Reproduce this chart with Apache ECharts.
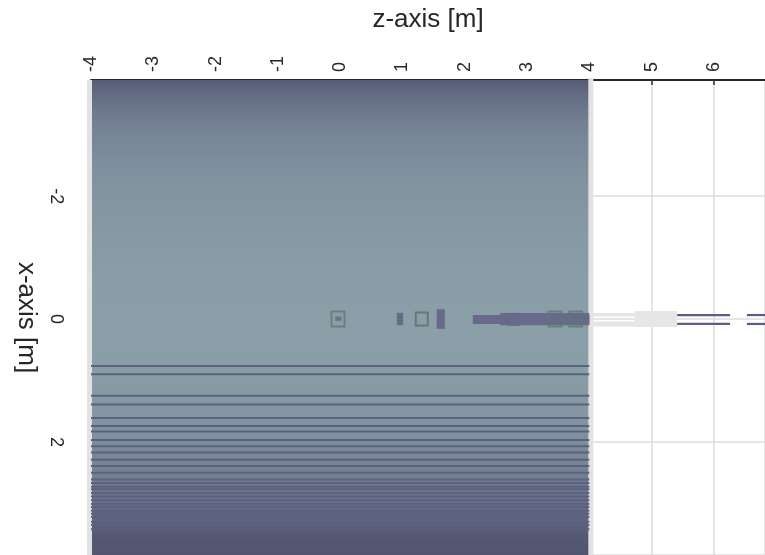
<!DOCTYPE html>
<html>
<head>
<meta charset="utf-8">
<script src="https://cdn.jsdelivr.net/npm/echarts@6/dist/echarts.min.js"></script>
<style>html,body{margin:0;padding:0;background:#fff}#c{width:765px;height:555px}</style>
</head>
<body>
<div id="c"></div>
<script>
// ---- data ----
var zTicks = [-4, -3, -2, -1, 0, 1, 2, 3, 4, 5, 6];
var xTicks = [-2, 0, 2];
// background intensity profile along x (0 = dark, 1 = light)
var bandX =     [-3.89, -3.8, -3.6, -3.4, -3.2, -3.0, -2.6, -2.2, -1.6, -1.0, -0.4, 0.4, 1.0, 1.6, 2.0, 2.4, 2.7, 2.9, 3.1, 3.3, 3.45, 3.6, 3.84];
var bandLevel = [0.1, 0.2, 0.38, 0.5, 0.6, 0.68, 0.78, 0.85, 0.91, 0.96, 0.99, 1.0, 0.96, 0.88, 0.78, 0.66, 0.54, 0.44, 0.32, 0.2, 0.1, 0.04, 0.02];
// dark horizontal stripes (x positions)
var stripeX = [0.764, 0.9, 1.25, 1.39, 1.61, 1.74, 1.83, 1.97, 2.07, 2.17, 2.29, 2.39, 2.5, 2.61, 2.67, 2.73, 2.77, 2.83, 2.89, 2.95, 3.01, 3.06, 3.12, 3.17, 3.22, 3.3, 3.35, 3.42];
// region extent in z
var regionZ = [-4, 4];
// filled dark features [z0, z1, x0, x1]
var darkRects = [[0.91, 1.01, -0.1, 0.1], [1.55, 1.68, -0.16, 0.16], [2.13, 4.0, -0.065, 0.08], [2.57, 4.0, -0.1, 0.1], [2.68, 2.89, -0.1, 0.11]];
var innerRects = [[-0.08, 0.02, -0.04, 0.03]];
// light grey features [z0, z1, x0, x1]
var greyRects = [[4.0, 5.41, -0.1, -0.04], [4.0, 5.41, 0.04, 0.12], [4.73, 5.41, -0.13, 0.13]];
// navy line segments [z0, z1, x]
var navySegs = [[5.41, 6.26, -0.065], [5.41, 6.26, 0.08], [6.53, 6.9, -0.065], [6.53, 6.9, 0.08]];
// square markers [z, x]
var greenSquares = [[-0.035, 0.0], [3.45, 0.0], [3.78, 0.0]];
var greySquares = [[1.31, 0.0]];

// ---- style helpers ----
var cmap = [[0, [82, 84, 112]], [0.5, [109, 119, 141]], [1, [138, 159, 167]]];
function colorOf(v) {
  for (var i = 0; i < cmap.length - 1; i++) {
    var a = cmap[i], b = cmap[i + 1];
    if (v <= b[0]) {
      var t = (v - a[0]) / (b[0] - a[0]);
      var c = a[1].map(function (x, k) { return Math.round(x + (b[1][k] - x) * t); });
      return 'rgb(' + c.join(',') + ')';
    }
  }
  return 'rgb(' + cmap[cmap.length - 1][1].join(',') + ')';
}

var bandData = [];
for (var i = 0; i < bandX.length - 1; i++) bandData.push([bandX[i], bandX[i + 1], bandLevel[i], bandLevel[i + 1]]);

function rectFrom(api, z0, z1, x0, x1, style) {
  var p0 = api.coord([z0, x0]), p1 = api.coord([z1, x1]);
  return {
    type: 'rect',
    shape: { x: Math.min(p0[0], p1[0]), y: Math.min(p0[1], p1[1]), width: Math.abs(p1[0] - p0[0]), height: Math.abs(p1[1] - p0[1]) },
    style: style
  };
}

var chart = echarts.init(document.getElementById('c'), null, { renderer: 'canvas' });
var font = 'Liberation Sans';
chart.setOption({
  animation: false,
  grid: { left: 91, right: 0, top: 80, bottom: 0, containLabel: false },
  xAxis: {
    type: 'value', position: 'top', min: -4, max: 6.82, interval: 1,
    name: 'z-axis [m]', nameLocation: 'middle', nameGap: 47,
    nameTextStyle: { fontFamily: font, fontSize: 26, color: '#262626' },
    axisLine: { show: true, onZero: false, lineStyle: { color: '#262626', width: 2 } },
    axisTick: { show: true, inside: true, length: 5, lineStyle: { color: '#333', width: 1.5 } },
    axisLabel: { rotate: -90, margin: 8, fontFamily: font, fontSize: 18, color: '#262626', showMaxLabel: false },
    splitLine: { show: true, lineStyle: { color: '#dcdcdc', width: 1.5 } }
  },
  yAxis: {
    type: 'value', inverse: true, min: -3.89, max: 3.84, splitNumber: 4,
    name: 'x-axis [m]', nameLocation: 'middle', nameGap: 51, nameRotate: -90,
    nameTextStyle: { fontFamily: font, fontSize: 26, color: '#262626' },
    axisLine: { show: false, onZero: false }, axisTick: { show: false },
    axisLabel: { rotate: -90, margin: 26, fontFamily: font, fontSize: 18, color: '#262626', showMinLabel: false, showMaxLabel: false },
    splitLine: { show: true, lineStyle: { color: '#dcdcdc', width: 1.5 } }
  },
  series: [
    { // background bands
      type: 'custom', data: bandData, z: 2,
      renderItem: function (params, api) {
        var d = bandData[params.dataIndex];
        var p0 = api.coord([regionZ[0], d[0]]), p1 = api.coord([regionZ[1], d[1]]);
        return {
          type: 'rect',
          shape: { x: p0[0], y: Math.floor(p0[1]), width: p1[0] - p0[0], height: Math.ceil(p1[1]) - Math.floor(p0[1]) + 1 },
          style: { fill: new echarts.graphic.LinearGradient(0, 0, 0, 1, [{ offset: 0, color: colorOf(d[2]) }, { offset: 1, color: colorOf(d[3]) }]) }
        };
      }
    },
    { // region borders
      type: 'custom', data: regionZ, z: 3,
      renderItem: function (params, api) {
        var z = regionZ[params.dataIndex];
        var p0 = api.coord([z, -3.89]), p1 = api.coord([z, 3.84]);
        var left = params.dataIndex === 0;
        var top = left ? p0[1] : p0[1] - 2;
        return { type: 'rect', shape: { x: left ? p0[0] - 4 : p0[0] - 1, y: top, width: 5, height: p1[1] - top }, style: { fill: '#e2e2e2' } };
      }
    },
    { // stripes
      type: 'custom', data: stripeX, z: 4,
      renderItem: function (params, api) {
        var x = stripeX[params.dataIndex];
        var p0 = api.coord([regionZ[0], x]), p1 = api.coord([regionZ[1], x]);
        return { type: 'line', shape: { x1: p0[0], y1: p0[1], x2: p1[0], y2: p1[1] }, style: { stroke: '#5c617f', lineWidth: 2 } };
      }
    },
    { // grey features
      type: 'custom', data: greyRects, z: 5,
      renderItem: function (params, api) {
        var d = greyRects[params.dataIndex];
        return rectFrom(api, d[0], d[1], d[2], d[3], { fill: '#e6e6e6' });
      }
    },
    { // dark features
      type: 'custom', data: darkRects, z: 6,
      renderItem: function (params, api) {
        var d = darkRects[params.dataIndex];
        return rectFrom(api, d[0], d[1], d[2], d[3], { fill: '#676a88' });
      }
    },
    {
      type: 'custom', data: innerRects, z: 7,
      renderItem: function (params, api) {
        var d = innerRects[params.dataIndex];
        return rectFrom(api, d[0], d[1], d[2], d[3], { fill: '#6d7089' });
      }
    },
    { // navy segments
      type: 'custom', data: navySegs, z: 6,
      renderItem: function (params, api) {
        var d = navySegs[params.dataIndex];
        var p0 = api.coord([d[0], d[2]]), p1 = api.coord([d[1], d[2]]);
        return { type: 'line', shape: { x1: p0[0], y1: p0[1], x2: p1[0], y2: p1[1] }, style: { stroke: '#585d8c', lineWidth: 2.2 } };
      }
    },
    {
      type: 'scatter', data: greenSquares, z: 8, symbol: 'rect', symbolSize: [13, 15],
      itemStyle: { color: 'rgba(0,0,0,0)', borderColor: '#5a7a73', borderWidth: 2 }
    },
    {
      type: 'scatter', data: greySquares, z: 8, symbol: 'rect', symbolSize: [12, 13],
      itemStyle: { color: 'rgba(0,0,0,0)', borderColor: '#5c6b70', borderWidth: 2 }
    }
  ]
});
</script>
</body>
</html>
